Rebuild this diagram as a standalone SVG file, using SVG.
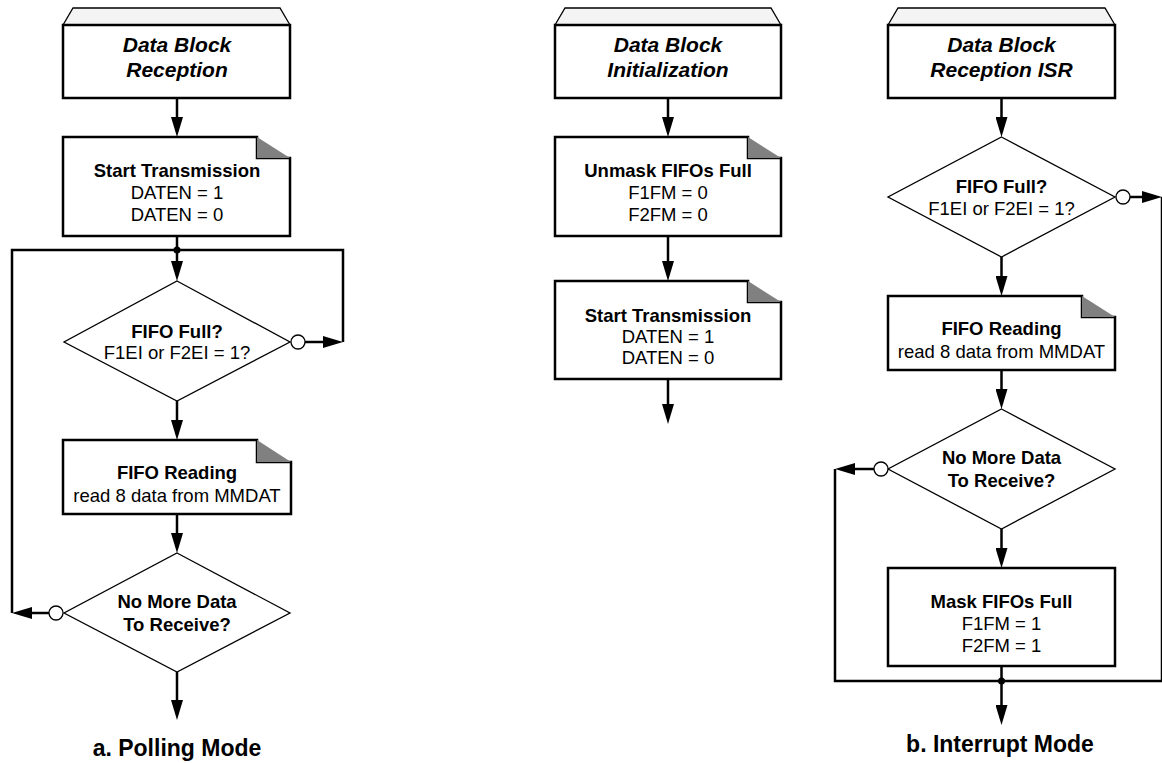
<svg xmlns="http://www.w3.org/2000/svg" width="1162" height="763" viewBox="0 0 1162 763">
<style>
text{font-family:"Liberation Sans",Arial,sans-serif;fill:#000;text-anchor:middle}
.t{font-size:21px;font-weight:bold;font-style:italic}
.b{font-size:18.5px;font-weight:bold}
.r{font-size:18.5px}
.cap{font-size:23px;font-weight:bold}
.box{fill:#fff;stroke:#000;stroke-width:2.5}
.bev{fill:#f4f4f4;stroke:#000;stroke-width:1.3}
.fold{fill:#808080;stroke:none}
.dia{fill:#fff;stroke:#000;stroke-width:1.3}
.ring{fill:#fff;stroke:#000;stroke-width:1.3}
.c{fill:none;stroke:#000;stroke-width:2.5}
.dot{fill:#000}
</style>
<defs>
<marker id="ah" markerUnits="userSpaceOnUse" markerWidth="20" markerHeight="12" refX="10" refY="6" orient="auto">
<path d="M0,0 L20,6 L0,12 z" fill="#000"/>
</marker>
</defs>

<!-- Left column: Polling mode -->
<g id="n-reception">
<polygon class="bev" points="63,25 73,8 280,8 290,25"/>
<rect class="box" x="63" y="25" width="227" height="73"/>
<text class="t" x="177" y="52">Data Block</text>
<text class="t" x="177" y="77">Reception</text>
</g>
<g id="n-start-a">
<path class="box" d="M63,137 H257 V158 H290 V236 H63 Z"/>
<polygon class="fold" points="257,137 290,158 257,158"/>
<text class="b" x="177" y="177">Start Transmission</text>
<text class="r" x="177" y="199">DATEN = 1</text>
<text class="r" x="177" y="221">DATEN = 0</text>
</g>
<g id="n-full-a">
<polygon class="dia" points="177,281 290,342 177,401 64,342"/>
<text class="b" x="177" y="338">FIFO Full?</text>
<text class="r" x="177" y="359">F1EI or F2EI = 1?</text>
</g>
<g id="n-read-a">
<path class="box" d="M63,440 H257 V462 H291 V514 H63 Z"/>
<polygon class="fold" points="257,440 291,462 257,462"/>
<text class="b" x="177" y="479">FIFO Reading</text>
<text class="r" x="177" y="502">read 8 data from MMDAT</text>
</g>
<g id="n-more-a">
<polygon class="dia" points="177,553 290,613 177,672 64,613"/>
<text class="b" x="177" y="608">No More Data</text>
<text class="b" x="177" y="631">To Receive?</text>
</g>
<g id="n-cap-a">
<text class="cap" x="177" y="756">a. Polling Mode</text>
</g>

<!-- Middle column: initialization -->
<g id="n-init">
<polygon class="bev" points="555,25 565,8 771,8 781,25"/>
<rect class="box" x="555" y="25" width="226" height="73"/>
<text class="t" x="668" y="52">Data Block</text>
<text class="t" x="668" y="77">Initialization</text>
</g>
<g id="n-unmask">
<path class="box" d="M555,137 H748 V158 H781 V236 H555 Z"/>
<polygon class="fold" points="748,137 781,158 748,158"/>
<text class="b" x="668" y="177">Unmask FIFOs Full</text>
<text class="r" x="668" y="199">F1FM = 0</text>
<text class="r" x="668" y="221">F2FM = 0</text>
</g>
<g id="n-start-b">
<path class="box" d="M555,281 H748 V302 H781 V379 H555 Z"/>
<polygon class="fold" points="748,281 781,302 748,302"/>
<text class="b" x="668" y="322">Start Transmission</text>
<text class="r" x="668" y="343">DATEN = 1</text>
<text class="r" x="668" y="364">DATEN = 0</text>
</g>

<!-- Right column: ISR -->
<g id="n-isr">
<polygon class="bev" points="888,25 898,8 1105,8 1115,25"/>
<rect class="box" x="888" y="25" width="227" height="73"/>
<text class="t" x="1001.5" y="52">Data Block</text>
<text class="t" x="1001.5" y="77">Reception ISR</text>
</g>
<g id="n-full-b">
<polygon class="dia" points="1001.5,137 1115,197 1001.5,257 888,197"/>
<text class="b" x="1001.5" y="193">FIFO Full?</text>
<text class="r" x="1001.5" y="215">F1EI or F2EI = 1?</text>
</g>
<g id="n-read-b">
<path class="box" d="M888,296 H1082 V317 H1115 V370 H888 Z"/>
<polygon class="fold" points="1082,296 1115,317 1082,317"/>
<text class="b" x="1001.5" y="335">FIFO Reading</text>
<text class="r" x="1001.5" y="358">read 8 data from MMDAT</text>
</g>
<g id="n-more-b">
<polygon class="dia" points="1001.5,409 1115,469 1001.5,529 888,469"/>
<text class="b" x="1001.5" y="464">No More Data</text>
<text class="b" x="1001.5" y="487">To Receive?</text>
</g>
<g id="n-mask">
<rect class="box" x="888" y="568" width="227" height="98"/>
<text class="b" x="1001.5" y="608">Mask FIFOs Full</text>
<text class="r" x="1001.5" y="630">F1FM = 1</text>
<text class="r" x="1001.5" y="652">F2FM = 1</text>
</g>
<g id="n-cap-b">
<text class="cap" x="1000" y="752">b. Interrupt Mode</text>
</g>

<g id="connectors">
<!-- left -->
<path class="c" d="M177,98 V127" marker-end="url(#ah)"/>
<path class="c" d="M177,236 V271" marker-end="url(#ah)"/>
<path class="c" d="M12,613 V250 H343 V342"/>
<circle class="ring" cx="298" cy="342" r="7"/>
<path class="c" d="M305,342 H333" marker-end="url(#ah)"/>
<circle class="ring" cx="56" cy="613" r="7"/>
<path class="c" d="M49,613 H22" marker-end="url(#ah)"/>
<circle class="dot" cx="177" cy="250" r="3.5"/>
<path class="c" d="M177,401 V430" marker-end="url(#ah)"/>
<path class="c" d="M177,514 V543" marker-end="url(#ah)"/>
<path class="c" d="M177,672 V710" marker-end="url(#ah)"/>
<!-- middle -->
<path class="c" d="M668,98 V127" marker-end="url(#ah)"/>
<path class="c" d="M668,236 V271" marker-end="url(#ah)"/>
<path class="c" d="M668,379 V414" marker-end="url(#ah)"/>
<!-- right -->
<path class="c" d="M1001.5,98 V127" marker-end="url(#ah)"/>
<circle class="ring" cx="1123" cy="197" r="7"/>
<path class="c" d="M1130,197 H1152" marker-end="url(#ah)"/>
<path class="c" d="M1162,197 V681 H835 V469"/>
<path class="c" d="M1001.5,257 V286" marker-end="url(#ah)"/>
<path class="c" d="M1001.5,370 V399" marker-end="url(#ah)"/>
<circle class="ring" cx="881" cy="469" r="7"/>
<path class="c" d="M874,469 H845" marker-end="url(#ah)"/>
<path class="c" d="M1001.5,529 V558" marker-end="url(#ah)"/>
<path class="c" d="M1001.5,666 V715" marker-end="url(#ah)"/>
<circle class="dot" cx="1001.5" cy="681" r="3.5"/>
</g>
</svg>
